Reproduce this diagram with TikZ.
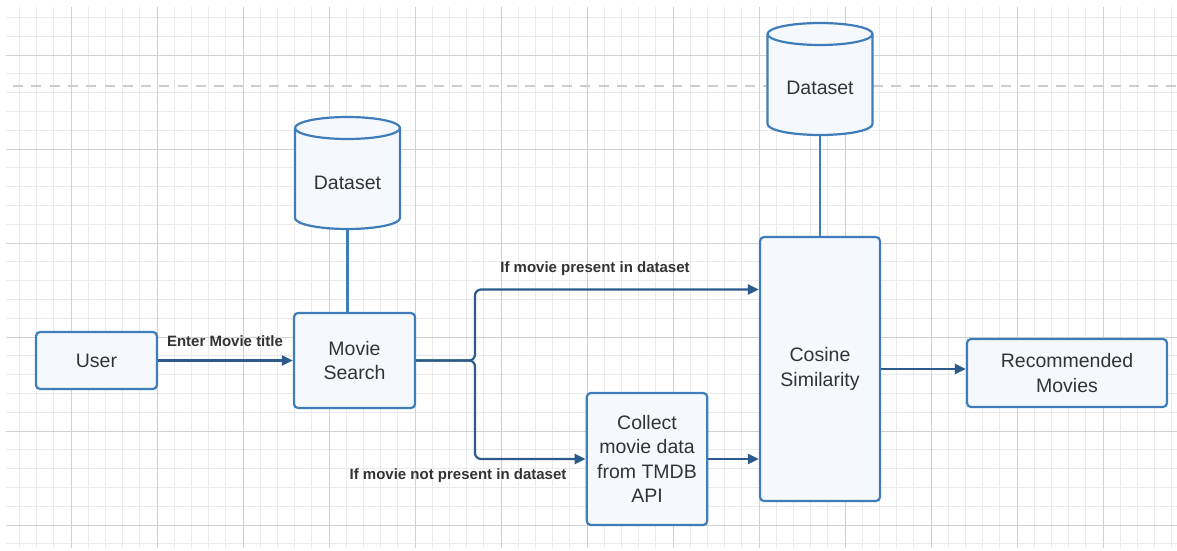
\documentclass[tikz,border=0pt]{standalone}
\usepackage{fontspec}
\setmainfont{Liberation Sans}
\usetikzlibrary{arrows.meta}
\definecolor{gridminor}{HTML}{EAEAEA}
\definecolor{gridmajor}{HTML}{D0D0D0}
\definecolor{dashcol}{HTML}{CCCCCC}
\definecolor{boxline}{HTML}{3F7DBA}
\definecolor{boxfill}{HTML}{F5F9FD}
\definecolor{conn}{HTML}{2C5A8A}
\definecolor{txt}{HTML}{333333}
\tikzset{
  box/.style={draw=boxline, fill=boxfill, line width=2.2pt, rounded corners=4pt,
    text=txt, align=center, inner sep=0pt, font=\fontsize{19.5}{24.5}\selectfont},
  dstext/.style={text=txt, inner sep=0pt, font=\fontsize{19.5}{24.5}\selectfont},
  elabel/.style={text=txt, inner sep=0pt, font=\fontsize{15}{18}\selectfont\bfseries},
  arr/.style={draw=conn, line width=2.2pt, -{Triangle[length=11pt,width=10pt]}},
  link/.style={draw=boxline, line width=2.2pt},
  cylpart/.style={draw=boxline, fill=boxfill, line width=2.2pt},
  dbcyl/.pic={
    \filldraw[cylpart] (-52.5,-45) -- (-52.5,45)
      arc[start angle=180,end angle=360,x radius=52.5pt,y radius=11pt]
      -- (52.5,-45)
      arc[start angle=0,end angle=180,x radius=52.5pt,y radius=11pt] -- cycle;
    \draw[cylpart, fill=none] (-52.5,-45)
      arc[start angle=180,end angle=360,x radius=52.5pt,y radius=11pt];
  }
}
\begin{document}
\begin{tikzpicture}[x=1pt,y=-1pt]
\useasboundingbox (0,0) rectangle (1177,551);
\fill[white] (0,0) rectangle (1177,551);
% grid
\begin{scope}
\clip (6,7) rectangle (1177,548);
\foreach \xx in {19.4,36.6,...,1177} \draw[gridminor, line width=0.8pt] (\xx,7) -- (\xx,548);
\foreach \yy in {17.4,36.2,...,548} \draw[gridminor, line width=0.8pt] (6,\yy) -- (1177,\yy);
\foreach \xx in {71,157,...,1177} \draw[gridmajor, line width=0.9pt] (\xx,7) -- (\xx,548);
\foreach \yy in {55,149,...,548} \draw[gridmajor, line width=0.9pt] (6,\yy) -- (1177,\yy);
\end{scope}
% dashed guide line
\draw[dashcol, line width=2pt, dash pattern=on 10pt off 8.3pt] (13,86) -- (1177,86);

% datasets
\pic at (347.5,173) {dbcyl};
\pic at (820,79) {dbcyl};
\node[dstext] (ds1) at (347.5,183) {Dataset};
\node[dstext] (ds2) at (820,88) {Dataset};
\coordinate (ds1b) at (347.5,229);
\coordinate (ds2b) at (820,135);

% boxes
\node[box, minimum width=121pt, minimum height=57pt] (user) at (96.5,360.5) {User};
\node[box, minimum width=121pt, minimum height=95pt] (ms) at (354.5,360.5) {Movie\\Search};
\node[box, minimum width=120pt, minimum height=264pt] (cos) at (820,369) {Cosine\\Similarity};
\node[box, minimum width=120.5pt, minimum height=132pt] (col) at (647,459) {Collect\\movie data\\from TMDB\\API};
\node[box, minimum width=200pt, minimum height=68pt] (rec) at (1067,373) {Recommended\\Movies};

% links
\draw[link] (ds1b) -- (ds1b |- ms.north);
\draw[link] (ds2b) -- (ds2b |- cos.north);

% arrows
\coordinate (jn) at (475,360.5);
\draw[arr] (user) -- (ms);
\draw[arr, rounded corners=6pt] (ms.east) -- (jn) |- ([yshift=79.5pt]cos.west);
\draw[arr, rounded corners=6pt] (ms.east) -- (jn) |- (col.west);
\draw[arr] (col.east) -- (col.east -| cos.west);
\draw[arr] (cos.east) -- (cos.east -| rec.west);

% labels
\node[elabel] (l1) at (225,341) {Enter Movie title};
\node[elabel] (l2) at (595,269) {If movie present in dataset};
\node[elabel] (l3) at (458,476) {If movie not present in dataset};
\end{tikzpicture}
\end{document}
